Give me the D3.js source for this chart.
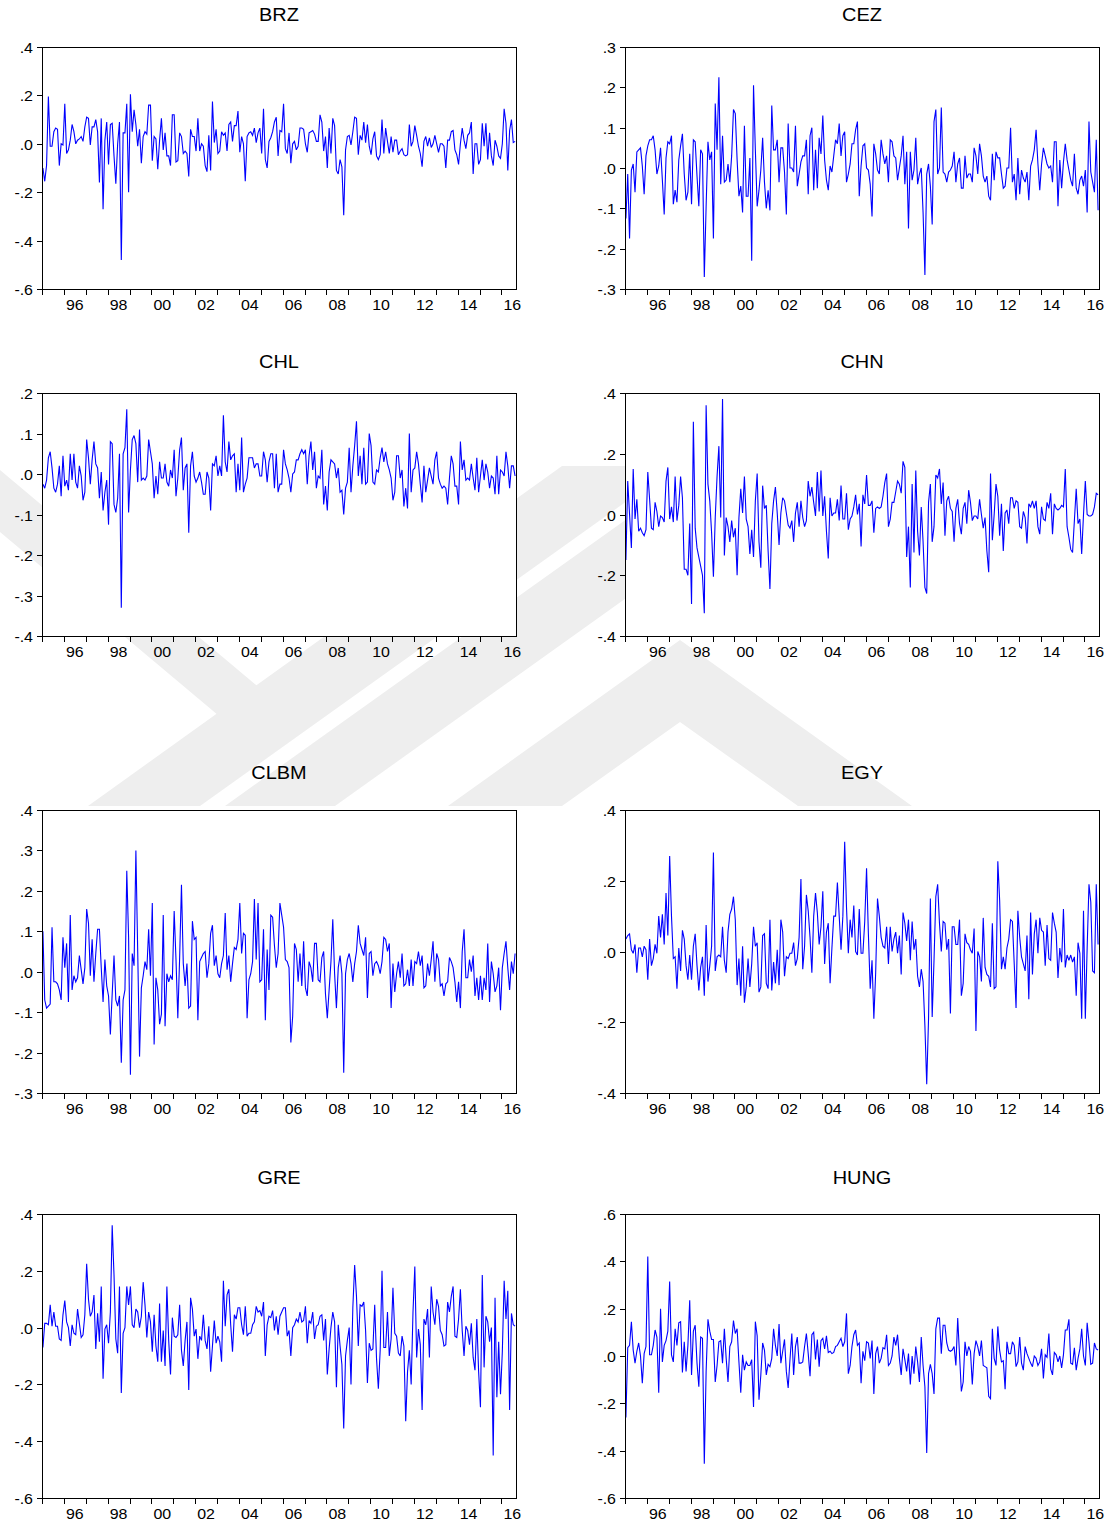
<!DOCTYPE html>
<html>
<head>
<meta charset="utf-8">
<script src="https://cdn.jsdelivr.net/npm/d3@7"></script>
<style>
  html, body { margin: 0; padding: 0; background: #ffffff; }
  svg { display: block; }
</style>
</head>
<body>
<svg id="chart" width="1115" height="1528"></svg>
<script>
// Monthly returns, 1995M01 - 2016M08 (260 observations per market)
const brz = [
  -0.10,-0.155,-0.09,0.195,-0.01,-0.01,0.05,0.065,0.06,-0.09,0.0,-0.005,
  0.165,-0.04,-0.025,0.015,0.08,0.05,0.0,0.015,0.02,0.03,0.01,0.07,
  0.11,0.105,-0.005,0.07,0.07,0.10,0.05,-0.16,0.105,-0.27,0.015,0.09,
  -0.085,0.08,0.085,-0.05,-0.165,0.0,0.09,-0.48,0.045,0.045,0.165,-0.2,
  0.205,0.05,0.14,0.08,-0.01,0.06,-0.08,0.03,0.05,0.04,0.16,0.16,
  -0.07,0.03,0.02,-0.105,0.015,0.105,-0.025,0.045,-0.05,-0.05,-0.09,0.12,
  0.12,-0.075,-0.07,0.045,0.03,-0.04,-0.03,-0.04,-0.135,0.06,0.03,0.03,
  -0.03,0.105,-0.03,0.0,-0.01,-0.09,-0.115,0.035,-0.11,0.175,0.005,0.06,
  -0.04,-0.03,0.05,0.035,0.045,-0.03,0.08,0.09,0.01,0.075,0.075,0.135,
  -0.035,0.03,0.0,-0.155,0.03,0.045,0.05,0.035,0.065,0.005,0.045,0.065,
  -0.04,0.145,-0.065,-0.1,0.01,0.025,0.05,0.09,0.11,-0.05,0.055,0.05,
  0.165,-0.02,-0.04,0.045,-0.08,0.0,0.01,-0.025,-0.01,0.065,0.065,0.06,
  0.0,-0.035,0.045,0.05,0.055,0.04,0.01,0.01,0.12,0.09,-0.03,0.03,
  -0.1,0.065,-0.04,0.105,0.075,-0.11,-0.125,-0.065,-0.095,-0.295,-0.025,0.03,
  0.035,-0.005,0.05,0.11,0.105,-0.045,0.035,0.015,0.09,0.005,0.08,-0.01,
  -0.045,0.02,0.05,-0.05,-0.065,-0.045,0.10,-0.04,0.065,0.01,-0.04,0.03,
  -0.035,0.015,0.015,-0.045,-0.03,-0.02,-0.045,-0.05,-0.045,0.08,-0.01,0.01,
  0.075,0.035,-0.01,-0.04,-0.095,0.01,0.03,-0.01,0.025,-0.015,0.0,0.035,
  0.0,-0.035,0.0,0.0,-0.01,-0.1,0.015,0.015,0.05,0.055,-0.025,-0.045,
  -0.085,0.0,0.065,0.015,-0.02,0.035,0.045,0.09,-0.125,0.0,0.0,-0.085,
  -0.065,0.085,-0.01,0.085,-0.065,0.045,-0.05,-0.09,0.015,-0.01,-0.05,-0.06,
  0.0,0.145,0.085,-0.11,0.055,0.1,0.005,0.01
];

const cez = [
  -0.125,-0.015,-0.175,-0.005,0.01,-0.06,0.04,0.045,0.05,0.005,-0.065,0.03,
  0.055,0.07,0.07,0.08,0.045,-0.015,0.005,0.05,-0.03,-0.115,0.025,0.065,
  0.06,0.08,-0.09,-0.055,-0.085,0.02,0.055,0.085,-0.015,-0.08,-0.06,0.035,
  -0.09,0.07,0.065,-0.02,-0.095,0.045,0.035,-0.27,-0.095,0.065,0.02,0.04,
  -0.175,0.16,0.045,0.225,-0.04,0.08,-0.035,-0.03,0.01,-0.035,0.03,0.145,
  0.135,0.02,-0.07,-0.045,-0.11,0.105,-0.07,-0.07,0.025,-0.23,0.205,0.045,
  -0.095,-0.055,-0.005,0.075,-0.035,-0.1,-0.055,-0.105,0.155,0.045,0.045,0.07,
  -0.035,0.05,0.05,-0.01,-0.115,0.11,0.0,0.0,-0.01,0.105,-0.045,-0.015,
  0.015,0.03,0.03,0.07,-0.065,0.08,0.1,-0.055,0.045,-0.05,0.075,0.035,
  0.13,0.02,-0.03,-0.055,0.005,-0.01,0.03,0.07,0.06,0.11,0.03,0.08,
  0.09,-0.035,-0.015,0.01,0.06,0.06,0.095,0.115,-0.07,0.005,0.055,0.06,
  0.0,-0.005,-0.04,-0.12,0.06,0.035,-0.005,-0.015,0.07,0.035,0.01,0.03,
  -0.035,0.07,0.065,0.03,0.025,-0.03,0.0,0.03,0.08,-0.04,0.04,-0.15,
  0.04,-0.03,-0.005,0.075,-0.04,-0.015,0.0,-0.11,-0.265,-0.015,0.01,-0.045,
  -0.14,0.115,0.145,-0.015,0.0,0.15,-0.01,-0.015,-0.035,-0.01,-0.005,0.005,
  0.04,-0.035,0.01,0.025,-0.05,-0.05,0.03,-0.025,-0.015,-0.015,-0.035,0.05,
  0.03,-0.015,0.06,0.03,-0.02,-0.035,-0.02,-0.07,-0.08,0.035,-0.03,0.04,
  0.025,0.025,-0.015,-0.05,-0.045,0.0,0.0,0.1,-0.035,-0.015,-0.08,0.025,
  -0.065,-0.005,-0.025,-0.035,-0.01,-0.08,0.005,0.02,0.045,0.095,0.01,-0.055,
  0.01,0.05,0.03,0.01,0.0,0.005,-0.035,0.065,0.065,-0.095,0.02,-0.05,
  0.015,0.06,0.02,-0.005,-0.03,-0.045,0.035,-0.05,-0.065,-0.03,-0.02,-0.045,
  -0.005,-0.11,0.115,-0.01,-0.035,-0.06,0.07,-0.105
];

const chl = [
  -0.025,-0.035,-0.015,0.04,0.055,0.015,-0.035,-0.045,-0.025,0.02,-0.055,0.045,
  -0.03,-0.015,-0.04,0.05,-0.015,0.05,-0.02,-0.035,0.02,-0.005,-0.065,-0.045,
  0.085,0.04,-0.025,0.035,0.08,0.025,0.015,-0.06,0.005,-0.09,-0.045,-0.015,
  -0.125,0.08,0.075,-0.075,-0.095,-0.06,0.05,-0.33,0.05,0.065,0.16,-0.095,
  0.01,0.085,0.095,0.075,-0.02,0.11,-0.015,-0.01,-0.015,-0.005,0.085,0.055,
  0.025,-0.06,-0.005,-0.05,0.03,-0.01,-0.01,0.025,-0.02,-0.03,0.01,-0.01,
  0.06,-0.055,-0.01,0.06,0.09,-0.04,0.015,0.025,-0.145,0.02,0.055,-0.005,
  -0.02,-0.01,0.005,-0.02,-0.05,-0.05,0.005,-0.01,-0.09,0.025,0.02,0.045,
  -0.005,0.02,-0.005,0.145,0.03,0.005,0.08,0.035,0.045,0.05,-0.045,0.025,
  -0.04,0.09,-0.045,-0.025,-0.01,0.04,0.04,0.04,0.015,0.025,0.025,-0.005,
  -0.005,0.055,0.035,-0.02,0.03,0.05,0.05,-0.035,0.05,-0.045,-0.025,-0.025,
  0.06,0.025,0.01,-0.01,-0.045,0.0,0.005,0.035,0.035,0.05,0.06,0.05,
  0.06,-0.025,0.045,0.08,0.01,0.055,-0.035,-0.005,-0.01,0.06,-0.075,-0.03,
  -0.09,0.005,0.035,0.03,0.025,-0.01,0.015,-0.045,-0.04,-0.1,-0.035,-0.02,
  0.065,-0.045,0.02,0.07,0.13,-0.005,0.045,-0.025,0.065,-0.025,-0.02,0.1,
  0.07,-0.02,-0.025,0.01,0.005,0.04,0.065,0.03,0.055,0.025,0.01,-0.01,
  -0.065,-0.045,0.045,0.045,-0.01,0.01,-0.08,-0.035,-0.085,0.1,-0.045,0.01,
  0.015,0.055,0.025,-0.025,-0.07,0.02,-0.045,-0.015,0.015,-0.005,-0.025,0.035,
  0.055,-0.01,-0.025,-0.035,-0.03,-0.035,-0.075,-0.01,0.045,0.025,-0.03,-0.03,
  -0.075,0.08,0.01,0.035,-0.015,-0.01,-0.015,0.025,-0.01,-0.04,0.04,-0.045,
  -0.005,0.035,-0.015,0.025,0.005,-0.035,-0.005,-0.01,-0.05,0.045,-0.05,0.01,
  0.005,-0.005,0.055,0.02,-0.035,0.02,0.02,-0.005
];

const chn = [
  -0.15,0.11,0.0,-0.11,0.15,-0.015,0.05,-0.055,-0.045,-0.06,-0.07,-0.05,
  0.14,0.05,-0.045,-0.05,0.04,0.01,-0.04,-0.005,-0.01,-0.025,0.11,0.155,
  -0.015,0.025,-0.025,0.125,-0.02,0.03,0.125,0.055,-0.18,-0.18,-0.2,-0.03,
  -0.295,0.305,-0.045,-0.11,-0.14,-0.17,-0.2,-0.325,0.36,0.1,0.045,-0.06,
  -0.205,-0.01,0.125,0.225,-0.01,0.38,-0.135,-0.01,-0.04,-0.09,-0.02,-0.075,
  -0.045,-0.2,-0.01,0.085,0.005,0.125,-0.015,-0.04,-0.13,-0.05,-0.14,0.045,
  0.135,-0.09,-0.175,0.095,0.02,0.03,-0.12,-0.245,-0.03,0.045,0.09,0.005,
  -0.1,0.005,0.055,0.045,0.005,-0.035,-0.045,-0.02,-0.09,0.005,0.04,-0.04,
  0.045,-0.01,-0.04,-0.02,0.11,0.06,0.09,0.04,-0.005,0.14,0.01,0.145,
  -0.005,0.06,-0.055,-0.145,0.055,-0.005,0.005,0.005,0.05,-0.02,0.095,-0.015,
  -0.015,0.07,-0.05,-0.015,-0.005,0.025,0.065,0.0,0.035,-0.105,0.065,0.035,
  0.13,0.03,0.03,0.045,-0.06,0.02,0.025,0.02,0.025,0.06,0.105,0.135,
  -0.04,-0.015,0.04,0.04,0.075,0.11,0.1,0.07,0.175,0.155,-0.14,-0.04,
  -0.24,0.1,-0.125,0.145,-0.055,-0.135,0.025,-0.09,-0.24,-0.26,0.04,0.1,
  -0.09,-0.04,0.13,0.12,0.15,0.035,0.105,-0.07,0.045,0.06,0.02,0.01,
  -0.09,0.02,0.05,-0.03,-0.065,0.02,0.04,-0.03,0.08,0.04,-0.02,-0.005,
  -0.005,-0.015,0.05,0.0,-0.045,-0.01,-0.12,-0.19,0.135,-0.085,0.0,0.1,
  0.06,-0.07,0.035,-0.12,0.005,0.015,-0.03,0.055,0.055,0.02,0.045,0.04,
  -0.04,-0.045,0.01,-0.01,-0.095,0.035,0.025,0.045,0.02,0.045,-0.04,-0.065,
  0.025,-0.015,-0.02,0.04,0.02,0.07,-0.065,0.035,0.02,0.015,0.02,0.03,
  0.025,0.15,-0.04,-0.075,-0.115,-0.125,-0.02,0.085,-0.03,-0.015,-0.13,0.0,
  0.11,0.0,-0.005,-0.005,0.0,0.025,0.07,0.065
];

const clbm = [
  0.1,-0.07,-0.09,-0.085,-0.08,0.11,-0.025,-0.025,-0.03,-0.045,-0.07,0.085,
  0.01,0.07,-0.075,0.14,-0.045,-0.01,-0.025,-0.015,0.04,0.005,-0.03,0.01,
  0.155,0.12,-0.01,0.08,-0.025,0.045,0.105,0.105,0.01,-0.075,0.03,-0.035,
  -0.06,-0.155,-0.055,0.04,-0.07,-0.085,-0.06,-0.225,-0.07,-0.045,0.25,0.085,
  -0.255,0.045,0.015,0.3,0.05,-0.21,-0.04,-0.01,0.025,0.005,0.105,-0.01,
  0.17,-0.18,-0.015,-0.045,-0.13,-0.105,0.14,-0.135,-0.005,-0.025,-0.01,-0.02,
  0.15,0.03,-0.115,0.035,0.215,0.02,-0.035,0.02,-0.09,-0.085,0.125,0.08,
  0.085,-0.12,0.025,0.035,0.045,0.05,-0.015,0.02,0.095,0.115,0.015,0.04,
  -0.005,-0.015,0.02,0.04,0.145,0.005,0.04,-0.025,0.02,0.06,0.055,0.08,
  0.17,0.045,0.095,0.09,-0.115,-0.02,-0.005,0.025,0.18,0.03,0.17,-0.025,
  -0.02,0.105,-0.12,0.055,-0.045,0.14,0.135,0.065,0.01,0.045,0.17,0.14,
  0.11,0.03,0.025,0.01,-0.175,-0.11,0.07,0.055,-0.025,0.045,-0.035,0.075,
  -0.04,-0.06,0.025,0.01,-0.025,0.07,0.07,-0.02,-0.025,0.035,0.05,-0.055,
  -0.115,-0.045,0.025,0.13,-0.005,-0.09,0.01,0.04,-0.005,-0.25,-0.005,0.03,
  0.045,0.02,-0.025,0.02,0.05,0.115,0.07,0.055,0.04,0.085,-0.065,0.045,
  0.05,-0.01,0.02,0.025,0.015,-0.005,0.025,0.085,0.08,0.05,0.07,-0.09,
  0.02,-0.05,-0.005,0.025,-0.015,0.045,-0.035,-0.03,0.005,-0.035,0.03,-0.035,
  0.025,0.02,0.05,0.015,0.04,-0.04,-0.035,0.02,-0.01,0.03,0.075,-0.025,
  0.045,0.03,-0.035,-0.03,-0.06,-0.03,-0.025,0.035,0.025,0.01,-0.025,-0.075,
  -0.025,-0.09,0.05,0.105,-0.015,-0.015,0.03,0.0,0.04,-0.06,-0.015,-0.07,
  -0.01,-0.07,-0.015,-0.045,0.07,-0.075,0.025,-0.005,-0.05,-0.035,0.01,-0.095,
  0.01,0.045,0.075,0.01,-0.045,0.025,-0.005,0.045
];

const egy = [
  0.035,0.045,0.05,0.005,-0.005,0.02,-0.06,0.01,0.01,-0.015,0.015,0.005,
  -0.08,0.035,-0.04,-0.02,0.02,-0.005,0.1,0.04,0.105,0.02,0.165,0.045,
  0.27,0.1,-0.02,-0.015,-0.105,0.01,-0.055,0.06,0.035,-0.04,-0.08,-0.01,
  -0.08,0.015,0.05,-0.04,-0.11,-0.045,-0.015,-0.125,0.075,-0.085,-0.04,0.015,
  0.28,-0.055,-0.015,-0.01,-0.015,0.07,-0.025,-0.06,0.055,0.105,0.12,0.155,
  0.09,-0.095,-0.02,-0.125,0.015,-0.145,-0.1,-0.02,-0.1,-0.035,0.07,0.015,
  0.025,-0.115,-0.1,0.045,0.05,-0.09,-0.105,0.09,-0.11,-0.03,-0.09,0.005,
  -0.095,0.09,0.055,-0.07,-0.015,-0.02,-0.005,-0.005,0.025,-0.04,-0.02,0.04,
  0.205,-0.05,0.015,0.16,0.115,0.04,-0.06,0.1,0.165,0.11,0.02,0.07,
  0.17,-0.035,0.055,0.08,-0.09,0.01,0.1,0.1,0.195,0.1,0.005,0.1,
  0.31,0.125,-0.005,0.09,0.04,0.13,0.0,-0.01,0.12,-0.005,-0.005,0.085,
  0.235,0.05,-0.105,-0.025,-0.19,-0.06,0.15,0.1,0.04,0.015,0.01,
  0.07,-0.035,0.07,0.0,0.035,0.055,-0.005,0.045,-0.065,0.11,0.08,0.03,
  0.09,-0.025,0.085,0.005,0.035,-0.07,-0.1,-0.05,-0.085,-0.21,-0.375,-0.19,
  0.15,-0.185,-0.025,0.155,0.19,0.08,0.0,0.085,0.08,0.005,0.035,-0.175,
  0.07,0.07,0.02,0.02,0.09,-0.125,-0.09,0.05,0.025,0.02,0.005,-0.005,
  0.065,-0.225,0.0,-0.015,-0.085,0.095,-0.045,-0.065,-0.07,-0.1,0.08,-0.105,
  -0.1,0.255,0.145,-0.05,-0.015,-0.05,0.01,0.035,0.09,0.085,-0.035,-0.16,
  0.115,0.04,-0.015,-0.035,-0.055,0.045,-0.135,0.11,-0.065,0.05,0.09,-0.005,
  0.095,0.06,0.055,-0.04,0.075,-0.02,-0.025,0.11,0.08,0.055,-0.075,0.01,
  -0.03,0.12,-0.045,-0.01,-0.025,-0.01,-0.03,-0.015,-0.125,0.025,-0.005,-0.19,
  0.115,-0.19,0.01,0.19,0.14,-0.055,-0.06,0.19,0.02
];

const gre = [
  -0.07,0.015,0.015,0.01,0.08,0.005,0.055,0.005,0.005,-0.04,-0.045,0.045,
  0.095,0.02,0.0,-0.065,0.01,-0.02,-0.025,0.065,0.015,-0.035,-0.025,0.045,
  0.225,0.1,0.04,0.055,0.115,-0.075,0.05,-0.05,0.145,-0.18,-0.005,0.01,
  -0.055,0.055,0.36,0.185,-0.04,-0.09,0.145,-0.23,-0.02,0.0,0.145,0.08,
  0.145,0.01,0.0,0.065,0.055,0.0,0.04,0.16,0.08,-0.035,0.055,0.02,
  -0.085,0.045,-0.065,-0.12,0.085,-0.12,-0.01,-0.135,0.145,-0.045,-0.165,0.035,
  -0.03,-0.035,-0.025,0.08,-0.08,-0.135,-0.045,0.02,-0.22,0.105,0.065,-0.03,
  -0.005,-0.11,-0.03,-0.045,0.045,-0.045,-0.075,0.005,-0.155,-0.065,0.025,-0.055,
  -0.03,-0.05,-0.12,0.165,0.005,0.115,0.135,0.01,-0.085,0.045,0.03,0.07,
  0.07,0.01,-0.025,0.075,-0.03,-0.02,-0.02,0.01,0.02,0.075,0.055,0.06,
  0.04,0.09,-0.1,0.01,0.04,0.035,0.06,-0.01,0.04,-0.025,0.04,0.055,
  0.07,0.07,-0.03,-0.01,-0.1,0.0,0.01,0.03,0.02,0.055,0.02,0.025,
  0.075,-0.055,0.025,0.015,0.055,-0.04,0.005,0.01,0.04,0.045,-0.045,0.03,
  -0.165,-0.075,0.0,0.055,0.02,-0.21,0.01,-0.065,-0.13,-0.355,-0.1,-0.045,
  0.0,-0.2,0.07,0.22,0.11,-0.065,0.08,0.075,0.09,-0.01,-0.195,-0.055,
  -0.08,-0.075,0.08,-0.11,-0.215,-0.08,0.2,-0.07,-0.07,0.055,-0.1,-0.04,
  0.14,-0.02,-0.03,-0.09,-0.1,-0.03,-0.065,-0.33,-0.155,-0.08,-0.2,0.055,
  0.215,-0.105,-0.005,-0.06,-0.29,0.03,0.01,0.065,-0.105,0.145,0.055,0.01,
  0.1,0.075,-0.01,-0.025,-0.065,-0.06,0.09,0.055,0.11,0.145,-0.03,-0.035,
  0.03,0.135,-0.01,-0.1,0.005,-0.01,-0.06,0.015,-0.105,-0.15,0.03,-0.155,
  -0.28,0.185,-0.14,0.04,0.02,-0.05,0.0,-0.45,0.105,-0.245,-0.05,-0.235,
  -0.085,0.165,0.03,0.13,-0.29,0.05,0.01,0.005
];

const hung = [
  -0.26,0.035,0.045,0.145,0.025,-0.03,0.02,0.055,0.0,-0.115,0.01,0.04,
  0.42,0.005,0.005,0.045,0.11,0.08,-0.155,0.2,-0.025,0.045,0.065,0.105,
  0.315,0.005,-0.025,0.115,0.045,0.14,0.145,-0.07,0.06,-0.065,0.045,0.235,
  -0.08,0.105,0.13,-0.03,-0.13,0.08,0.075,-0.455,-0.065,0.155,0.105,0.07,
  0.07,-0.11,-0.04,0.06,0.065,-0.03,0.115,-0.01,-0.11,0.04,0.06,0.15,
  0.095,0.115,-0.025,-0.155,0.005,-0.06,-0.025,-0.04,-0.04,-0.015,-0.215,0.145,
  0.085,-0.185,-0.08,0.055,0.025,-0.08,-0.035,-0.045,-0.01,0.115,0.045,0.0,
  0.135,-0.03,0.02,0.07,-0.065,-0.135,-0.015,0.095,-0.08,0.04,0.08,-0.03,
  -0.03,-0.025,0.04,0.095,0.01,-0.085,0.09,0.1,-0.015,0.07,-0.045,0.065,
  0.075,0.03,0.085,0.015,0.02,0.01,0.015,0.04,0.045,0.06,0.075,0.04,
  0.06,0.18,-0.075,-0.04,0.04,0.09,0.11,0.045,0.055,-0.115,0.02,-0.02,
  0.06,0.055,-0.01,0.065,-0.16,0.01,0.04,-0.03,-0.01,0.035,0.03,0.09,
  -0.04,-0.03,0.0,0.08,0.045,0.09,-0.01,-0.08,0.03,-0.015,-0.065,0.01,
  -0.12,0.0,-0.075,0.04,-0.025,-0.11,0.08,-0.04,-0.13,-0.41,-0.075,-0.035,
  -0.075,-0.16,0.115,0.16,0.16,0.01,0.13,0.13,0.055,0.025,0.02,0.025,
  0.04,-0.04,0.16,0.005,-0.15,-0.11,0.06,0.0,0.04,0.02,-0.12,0.01,
  0.065,0.04,0.0,0.065,-0.04,-0.045,-0.05,-0.17,-0.18,0.115,-0.01,-0.04,
  0.125,0.025,-0.025,-0.02,-0.14,0.06,0.01,0.01,0.06,0.045,-0.045,-0.025,
  0.08,-0.03,-0.06,0.04,0.01,-0.01,-0.03,-0.045,0.0,-0.01,-0.04,-0.025,
  0.03,-0.095,0.005,-0.005,0.095,-0.055,-0.08,0.015,0.005,-0.025,0.0,-0.05,
  0.005,0.11,0.11,0.155,-0.03,-0.035,0.035,-0.06,-0.01,0.03,0.115,0.0,
  -0.04,0.14,0.06,-0.035,-0.03,0.055,0.03,0.025
];

// Panel titles, in reading order (left to right, top to bottom)
const panelNames = ["BRZ", "CEZ", "CHL", "CHN", "CLBM", "EGY", "GRE", "HUNG"];
const panelValues = [brz, cez, chl, chn, clbm, egy, gre, hung];

// Value-axis ticks for each panel
const brzTicks  = [-0.6, -0.4, -0.2, 0.0, 0.2, 0.4];
const cezTicks  = [-0.3, -0.2, -0.1, 0.0, 0.1, 0.2, 0.3];
const chlTicks  = [-0.4, -0.3, -0.2, -0.1, 0.0, 0.1, 0.2];
const chnTicks  = [-0.4, -0.2, 0.0, 0.2, 0.4];
const clbmTicks = [-0.3, -0.2, -0.1, 0.0, 0.1, 0.2, 0.3, 0.4];
const egyTicks  = [-0.4, -0.2, 0.0, 0.2, 0.4];
const greTicks  = [-0.6, -0.4, -0.2, 0.0, 0.2, 0.4];
const hungTicks = [-0.6, -0.4, -0.2, 0.0, 0.2, 0.4, 0.6];
const panelTicks = [brzTicks, cezTicks, chlTicks, chnTicks, clbmTicks, egyTicks, greTicks, hungTicks];

// Time axis: sample start, sample end, labelled years
const startYear = 1995;
const endYear = 2016 + 8 / 12;
const yearTicks = d3.range(1995, 2017);
const yearLabels = ["96", "98", "00", "02", "04", "06", "08", "10", "12", "14", "16"];

// ---- layout ----
const colX = [[42, 516], [625, 1099]];
const rowY = [[47, 289], [393, 636], [810, 1093], [1214, 1498]];
const titleBase = [21, 367.5, 779, 1184];
const textStretch = 1.14;

const svg = d3.select("#chart");

// background mark of the page, partly covered by the plot areas
const wm = svg.append("g").attr("fill", "#eeeeee");
const wmShapes = [
  [[0, 470], [300, 722], [262, 752], [0, 532]],
  [[88, 806], [200, 806], [676, 466], [562, 466]],
  [[225, 806], [335, 806], [811, 466], [701, 466]],
  [[448, 806], [680, 640], [912, 806], [798, 806], [680, 722], [562, 806]]
];
wmShapes.forEach(pts => {
  wm.append("polygon").attr("points", pts.map(p => p.join(",")).join(" "));
});

// EViews-style tick labels: ".2", ".0", "-.4" with a plain hyphen
const locale = d3.formatLocale({ decimal: ".", thousands: ",", grouping: [3], currency: ["", ""], minus: "-" });
const fmt1 = locale.format(".1f");
const fmt = v => fmt1(Math.abs(v) < 1e-9 ? 0 : v).replace("0.", ".");

function stretchedText(parent, x, y, str, size, anchor) {
  const g = parent.append("g")
    .attr("transform", `translate(${x},${y}) scale(${textStretch},1)`);
  g.append("text")
    .attr("x", 0).attr("y", 0)
    .attr("text-anchor", anchor)
    .attr("font-family", "'Liberation Sans', Arial, Helvetica, sans-serif")
    .attr("font-size", size)
    .attr("fill", "#000")
    .text(str);
  return g;
}

panelNames.forEach((name, k) => {
  const col = k % 2, row = Math.floor(k / 2);
  const [x0, x1] = colX[col];
  const [y0, y1] = rowY[row];
  const ticks = panelTicks[k];
  const values = panelValues[k];

  const x = d3.scaleLinear().domain([startYear, endYear]).range([x0, x1]);
  const y = d3.scaleLinear().domain([d3.min(ticks), d3.max(ticks)]).range([y1, y0]);

  const g = svg.append("g");

  // plot area
  g.append("rect")
    .attr("x", x0 + 0.5).attr("y", y0 + 0.5)
    .attr("width", x1 - x0).attr("height", y1 - y0)
    .attr("fill", "#fff");

  // series
  const line = d3.line()
    .x((d, i) => x(startYear + (i + 0.5) / 12))
    .y(d => y(d));
  g.append("path")
    .datum(values)
    .attr("d", line)
    .attr("fill", "none")
    .attr("stroke", "#0000ff")
    .attr("stroke-width", 1.1)
    .attr("stroke-linejoin", "miter")
    .attr("stroke-miterlimit", 3);

  // frame
  g.append("rect")
    .attr("x", x0 + 0.5).attr("y", y0 + 0.5)
    .attr("width", x1 - x0).attr("height", y1 - y0)
    .attr("fill", "none")
    .attr("stroke", "#000")
    .attr("stroke-width", 1);

  // value axis
  ticks.forEach(t => {
    const yy = Math.round(y(t)) + 0.5;
    g.append("line")
      .attr("x1", x0 - 5).attr("x2", x0 + 0.5)
      .attr("y1", yy).attr("y2", yy)
      .attr("stroke", "#000").attr("stroke-width", 1);
    stretchedText(g, x0 - 9, yy + 5, fmt(t), 14, "end");
  });

  // time axis
  yearTicks.forEach(yr => {
    const xx = Math.round(x(yr)) + 0.5;
    g.append("line")
      .attr("x1", xx).attr("x2", xx)
      .attr("y1", y1 + 0.5).attr("y2", y1 + 6)
      .attr("stroke", "#000").attr("stroke-width", 1);
  });
  yearLabels.forEach((lab, j) => {
    const yr = 1996 + 2 * j;
    stretchedText(g, x(yr + 0.5), y1 + 20.5, lab, 14, "middle");
  });

  // title
  stretchedText(g, (x0 + x1) / 2, titleBase[row], name, 17.5, "middle");
});
</script>
</body>
</html>
